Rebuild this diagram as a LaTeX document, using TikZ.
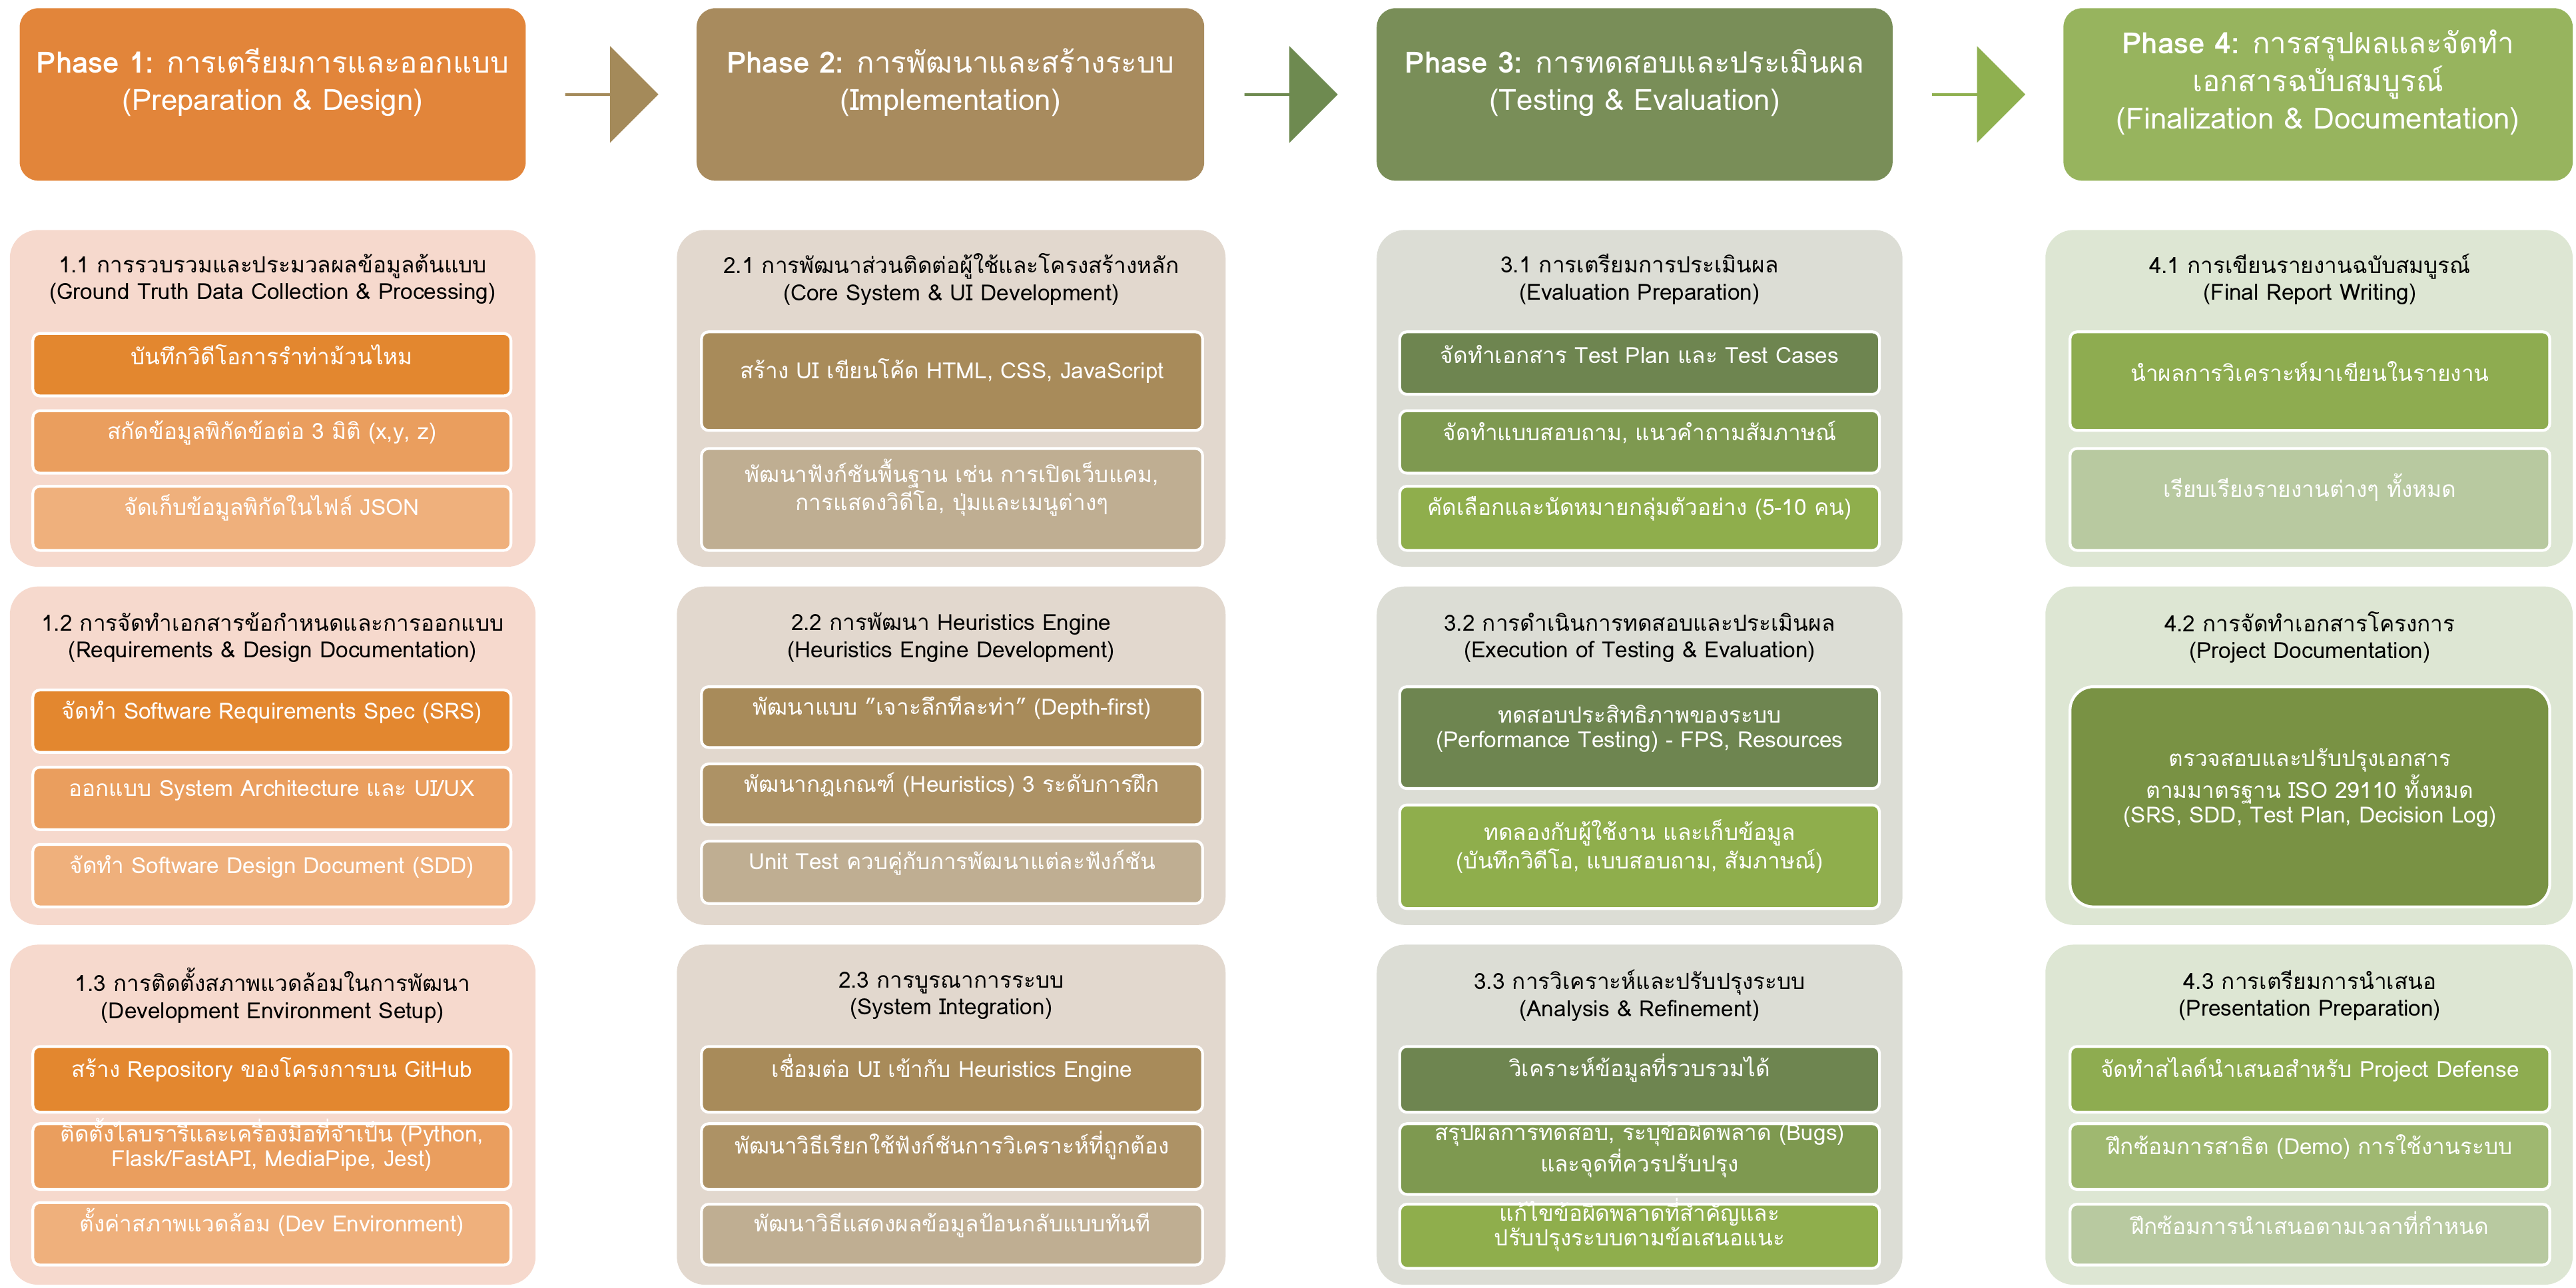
\documentclass[tikz,border=0pt]{standalone}
\usepackage{fontspec}
\setmainfont[Script=Thai]{Loma}
\usepackage{xcolor}
\usetikzlibrary{shapes.arrows, positioning, fit}
\definecolor{hdA}{HTML}{E2853A}
\definecolor{hdB}{HTML}{A88B5E}
\definecolor{hdC}{HTML}{798E58}
\definecolor{hdD}{HTML}{97B45E}
\definecolor{bgA}{HTML}{F6D9CD}
\definecolor{bgB}{HTML}{E2D8CE}
\definecolor{bgC}{HTML}{DCDDD5}
\definecolor{bgD}{HTML}{DDE6D3}
\definecolor{inA1}{HTML}{E3872F}
\definecolor{inA2}{HTML}{EA9E5E}
\definecolor{inA3}{HTML}{EFB07C}
\definecolor{inB1}{HTML}{A88B5A}
\definecolor{inB2}{HTML}{BFAE92}
\definecolor{inC1}{HTML}{6E8550}
\definecolor{inC2}{HTML}{7E9950}
\definecolor{inC3}{HTML}{8FAE4C}
\definecolor{inD1}{HTML}{8EAC50}
\definecolor{inD2}{HTML}{B8C9A0}
\definecolor{arA}{HTML}{A48A5A}
\definecolor{arB}{HTML}{6E8A50}
\definecolor{arC}{HTML}{8FB050}

\begin{document}
\begin{tikzpicture}[x=0.02467cm, y=-0.02467cm,
    phase/.style={rounded corners=8pt, inner sep=0pt, align=center, font=\fontsize{12.5}{16}\selectfont, text=white},
    section/.style={rounded corners=12pt, inner sep=0pt},
    item/.style={rounded corners=3pt, inner sep=0pt, draw=white, line width=1.2pt, align=center, text=white, font=\fontsize{9.5}{10.5}\selectfont},
    title/.style={align=center, font=\fontsize{9.5}{11.5}\selectfont},
    phasearrow/.style={single arrow, single arrow head extend=0.25cm, minimum height=1.4cm, minimum width=1.45cm, inner sep=0pt}
]
    \useasboundingbox (0,0) rectangle (1568,784);
    % Phase headers
    \node[phase, fill=hdA, fit={(12,5) (320,110)}] (p1) {\textbf{Phase 1:} การเตรียมการและออกแบบ\\(Preparation \& Design)};
    \node[phase, fill=hdB, fit={(424,5) (733,110)}] (p2) {\textbf{Phase 2:} การพัฒนาและสร้างระบบ\\(Implementation)};
    \node[phase, fill=hdC, fit={(838,5) (1152,110)}] (p3) {\textbf{Phase 3:} การทดสอบและประเมินผล\\(Testing \& Evaluation)};
    \node[phase, fill=hdD, fit={(1256,5) (1566,110)}] (p4) {\textbf{Phase 4:} การสรุปผลและจัดทำ\\เอกสารฉบับสมบูรณ์\\(Finalization \& Documentation)};
    \path (p1.east) -- node[phasearrow, fill=arA] (a1) {} (p2.west);
    \path (p2.east) -- node[phasearrow, fill=arB] (a2) {} (p3.west);
    \path (p3.east) -- node[phasearrow, fill=arC] (a3) {} (p4.west);

    % Phase 1
    \node[section, fill=bgA, fit={(6,140) (326,345)}] (s11) {};
    \node[title] at (166,170) {1.1 การรวบรวมและประมวลผลข้อมูลต้นแบบ\\(Ground Truth Data Collection \& Processing)};
    \node[item, fill=inA1, fit={(20,203) (311,241)}] (b111) {บันทึกวิดีโอการรำท่าม้วนไหม};
    \node[item, fill=inA2, fit={(20,250) (311,288)}] (b112) {สกัดข้อมูลพิกัดข้อต่อ 3 มิติ (x,y, z)};
    \node[item, fill=inA3, fit={(20,296) (311,335)}] (b113) {จัดเก็บข้อมูลพิกัดในไฟล์ JSON};
    \node[section, fill=bgA, fit={(6,357) (326,563)}] (s12) {};
    \node[title] at (166,388) {1.2 การจัดทำเอกสารข้อกำหนดและการออกแบบ\\(Requirements \& Design Documentation)};
    \node[item, fill=inA1, fit={(20,420) (311,458)}] (b121) {จัดทำ Software Requirements Spec (SRS)};
    \node[item, fill=inA2, fit={(20,467) (311,505)}] (b122) {ออกแบบ System Architecture และ UI/UX};
    \node[item, fill=inA3, fit={(20,514) (311,552)}] (b123) {จัดทำ Software Design Document (SDD)};
    \node[section, fill=bgA, fit={(6,575) (326,782)}] (s13) {};
    \node[title] at (166,606) {1.3 การติดตั้งสภาพแวดล้อมในการพัฒนา\\(Development Environment Setup)};
    \node[item, fill=inA1, fit={(20,637) (311,677)}] (b131) {สร้าง Repository ของโครงการบน GitHub};
    \node[item, fill=inA2, fit={(20,684) (311,724)}] (b132) {ติดตั้งไลบรารีและเครื่องมือที่จำเป็น (Python,\\Flask/FastAPI, MediaPipe, Jest)};
    \node[item, fill=inA3, fit={(20,732) (311,770)}] (b133) {ตั้งค่าสภาพแวดล้อม (Dev Environment)};

    % Phase 2
    \node[section, fill=bgB, fit={(412,140) (746,345)}] (s21) {};
    \node[title] at (579,170) {2.1 การพัฒนาส่วนติดต่อผู้ใช้และโครงสร้างหลัก\\(Core System \& UI Development)};
    \node[item, fill=inB1, fit={(427,202) (732,262)}] (b211) {สร้าง UI เขียนโค้ด HTML, CSS, JavaScript};
    \node[item, fill=inB2, fit={(427,273) (732,335)}] (b212) {พัฒนาฟังก์ชันพื้นฐาน เช่น การเปิดเว็บแคม,\\การแสดงวิดีโอ, ปุ่มและเมนูต่างๆ};
    \node[section, fill=bgB, fit={(412,357) (746,563)}] (s22) {};
    \node[title] at (579,388) {2.2 การพัฒนา Heuristics Engine\\(Heuristics Engine Development)};
    \node[item, fill=inB1, fit={(427,418) (732,455)}] (b221) {พัฒนาแบบ "เจาะลึกทีละท่า" (Depth-first)};
    \node[item, fill=inB1!80!inB2, fit={(427,465) (732,502)}] (b222) {พัฒนากฎเกณฑ์ (Heuristics) 3 ระดับการฝึก};
    \node[item, fill=inB2, fit={(427,512) (732,550)}] (b223) {Unit Test ควบคู่กับการพัฒนาแต่ละฟังก์ชัน};
    \node[section, fill=bgB, fit={(412,575) (746,782)}] (s23) {};
    \node[title] at (579,606) {2.3 การบูรณาการระบบ\\(System Integration)};
    \node[item, fill=inB1, fit={(427,637) (732,677)}] (b231) {เชื่อมต่อ UI เข้ากับ Heuristics Engine};
    \node[item, fill=inB1!80!inB2, fit={(427,684) (732,724)}] (b232) {พัฒนาวิธีเรียกใช้ฟังก์ชันการวิเคราะห์ที่ถูกต้อง};
    \node[item, fill=inB2, fit={(427,733) (732,770)}] (b233) {พัฒนาวิธีแสดงผลข้อมูลป้อนกลับแบบทันที};

    % Phase 3
    \node[section, fill=bgC, fit={(838,140) (1158,345)}] (s31) {};
    \node[title] at (998,170) {3.1 การเตรียมการประเมินผล\\(Evaluation Preparation)};
    \node[item, fill=inC1, fit={(852,202) (1144,240)}] (b311) {จัดทำเอกสาร Test Plan และ Test Cases};
    \node[item, fill=inC2, fit={(852,250) (1144,288)}] (b312) {จัดทำแบบสอบถาม, แนวคำถามสัมภาษณ์};
    \node[item, fill=inC3, fit={(852,296) (1144,335)}] (b313) {คัดเลือกและนัดหมายกลุ่มตัวอย่าง (5-10 คน)};
    \node[section, fill=bgC, fit={(838,357) (1158,563)}] (s32) {};
    \node[title] at (998,388) {3.2 การดำเนินการทดสอบและประเมินผล\\(Execution of Testing \& Evaluation)};
    \node[item, fill=inC1, fit={(852,418) (1144,480)}] (b321) {ทดสอบประสิทธิภาพของระบบ\\(Performance Testing) - FPS, Resources};
    \node[item, fill=inC3, fit={(852,490) (1144,553)}] (b322) {ทดลองกับผู้ใช้งาน และเก็บข้อมูล\\(บันทึกวิดีโอ, แบบสอบถาม, สัมภาษณ์)};
    \node[section, fill=bgC, fit={(838,575) (1158,782)}] (s33) {};
    \node[title] at (998,606) {3.3 การวิเคราะห์และปรับปรุงระบบ\\(Analysis \& Refinement)};
    \node[item, fill=inC1, fit={(852,637) (1144,677)}] (b331) {วิเคราะห์ข้อมูลที่รวบรวมได้};
    \node[item, fill=inC2, fit={(852,684) (1144,727)}] (b332) {สรุปผลการทดสอบ, ระบุข้อผิดพลาด (Bugs)\\และจุดที่ควรปรับปรุง};
    \node[item, fill=inC3, fit={(852,733) (1144,772)}] (b333) {แก้ไขข้อผิดพลาดที่สำคัญและ\\ปรับปรุงระบบตามข้อเสนอแนะ};

    % Phase 4
    \node[section, fill=bgD, fit={(1245,140) (1566,345)}] (s41) {};
    \node[title] at (1406,170) {4.1 การเขียนรายงานฉบับสมบูรณ์\\(Final Report Writing)};
    \node[item, fill=inD1, fit={(1260,202) (1552,262)}] (b411) {นำผลการวิเคราะห์มาเขียนในรายงาน};
    \node[item, fill=inD2, fit={(1260,273) (1552,335)}] (b412) {เรียบเรียงรายงานต่างๆ ทั้งหมด};
    \node[section, fill=bgD, fit={(1245,357) (1566,563)}] (s42) {};
    \node[title] at (1406,388) {4.2 การจัดทำเอกสารโครงการ\\(Project Documentation)};
    \node[item, fill=inD1!85!black, fit={(1260,418) (1552,552)}, rounded corners=10pt] (b421) {ตรวจสอบและปรับปรุงเอกสาร\\ตามมาตรฐาน ISO 29110 ทั้งหมด\\(SRS, SDD, Test Plan, Decision Log)};
    \node[section, fill=bgD, fit={(1245,575) (1566,782)}] (s43) {};
    \node[title] at (1406,606) {4.3 การเตรียมการนำเสนอ\\(Presentation Preparation)};
    \node[item, fill=inD1, fit={(1260,637) (1552,677)}] (b431) {จัดทำสไลด์นำเสนอสำหรับ Project Defense};
    \node[item, fill=inD1!60!inD2, fit={(1260,684) (1552,724)}] (b432) {ฝึกซ้อมการสาธิต (Demo) การใช้งานระบบ};
    \node[item, fill=inD2, fit={(1260,733) (1552,770)}] (b433) {ฝึกซ้อมการนำเสนอตามเวลาที่กำหนด};
\end{tikzpicture}
\end{document}
